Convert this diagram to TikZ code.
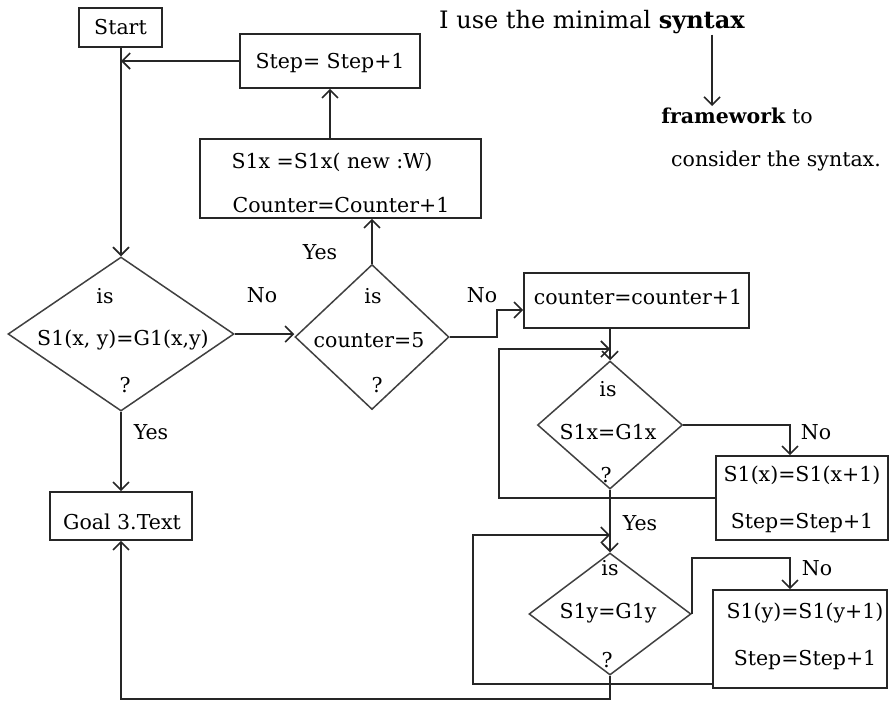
\documentclass[tikz,border=0pt]{standalone}
\usepackage{fontspec}
\setmainfont{DejaVu Serif}
\usetikzlibrary{shapes.geometric,arrows.meta}
\begin{document}
\begin{tikzpicture}[x=1pt,y=-1pt,
  line width=1.7pt,
  every node/.style={font=\fontsize{20.5}{24}\selectfont, text=black},
  arr/.style={-{Straight Barb[length=8pt,width=16pt,line width=1.6pt]}},
  ln/.style={draw=black!85},
  boxnode/.style={draw=black!85, rectangle, inner sep=0pt},
  decision/.style={draw=black!75, diamond, inner sep=0pt, line width=1.5pt},
  lbl/.style={inner sep=0pt}
]
\useasboundingbox (0,0) rectangle (893,702);

% process boxes
\node[boxnode, minimum width=83pt, minimum height=39pt] (start) at (120.5,27.5) {Start};
\node[boxnode, minimum width=180pt, minimum height=54pt] (step) at (330,61) {};
\node[lbl] (steptxt) at (330,63) {Step= Step+1};
\node[boxnode, minimum width=281pt, minimum height=79pt] (s1x) at (340.5,178.5) {};
\node[lbl] (s1xa) at (332,162) {S1x =S1x( new :W)};
\node[lbl] (s1xb) at (341,205) {Counter=Counter+1};
\node[boxnode, minimum width=142pt, minimum height=48pt] (goal) at (121,516) {};
\node[lbl] (goaltxt) at (122,522) {Goal 3.Text};
\node[boxnode, minimum width=225pt, minimum height=55pt] (cbox) at (636.5,300.5) {};
\node[lbl] (cboxtxt) at (638,297) {counter=counter+1};
\node[boxnode, minimum width=172pt, minimum height=84pt] (sxbox) at (802,498) {};
\node[lbl] (sxa) at (802,475) {S1(x)=S1(x+1)};
\node[lbl] (sxb) at (802,523) {Step=Step+1};
\node[boxnode, minimum width=174pt, minimum height=98pt] (sybox) at (800,639) {};
\node[lbl] (sya) at (805,613) {S1(y)=S1(y+1)};
\node[lbl] (syb) at (805,660) {Step=Step+1};

% decisions
\node[decision, minimum width=226pt, minimum height=154pt] (d1) at (121,334) {};
\node[lbl] (d1a) at (105,296) {is};
\node[lbl] (d1b) at (123,340) {S1(x, y)=G1(x,y)};
\node[lbl] (d1c) at (125,385) {?};
\node[decision, minimum width=154pt, minimum height=145pt] (d2) at (372,337) {};
\node[lbl] (d2a) at (373,296) {is};
\node[lbl] (d2b) at (369,340) {counter=5};
\node[lbl] (d2c) at (377,385) {?};
\node[decision, minimum width=145pt, minimum height=128pt] (d3) at (610,425) {};
\node[lbl] (d3a) at (608,389) {is};
\node[lbl] (d3b) at (608,432) {S1x=G1x};
\node[lbl] (d3c) at (606,475) {?};
\node[decision, minimum width=162pt, minimum height=122pt] (d4) at (610,614) {};
\node[lbl] (d4a) at (610,568) {is};
\node[lbl] (d4b) at (608,613) {S1y=G1y};
\node[lbl] (d4c) at (607,660) {?};

% branch labels
\node[lbl] (yes1) at (320,252) {Yes};
\node[lbl] (no1) at (262,295) {No};
\node[lbl] (yes2) at (151,432) {Yes};
\node[lbl] (no2) at (482,295) {No};
\node[lbl] (no3) at (816,432) {No};
\node[lbl] (yes3) at (640,523) {Yes};
\node[lbl] (no4) at (817,568) {No};

% side note
\node[lbl, font=\fontsize{24}{28}\selectfont] (note1) at (592,22) {I use the minimal \textbf{syntax}};
\node[lbl] (note2) at (737,116) {\textbf{framework} to};
\node[lbl] (note3) at (776,161) {consider the syntax.};

% helper points
\coordinate (k1) at (497,310);
\coordinate (lx1) at (499,349);
\coordinate (lx2) at (473,535);
\coordinate (nx) at (790,0);
\coordinate (up4) at (689,558);
\coordinate (bot) at (610,699);
\coordinate (loop2end) at (713,684);

% connectors
\draw[ln,arr] (start.south -| d1.north) -- (d1.north);
\draw[ln,arr] (step.west) -- (step.west -| d1.north);
\draw[ln,arr] (step.south |- s1x.north) -- (step.south);
\draw[ln,arr] (d2.north) -- (d2.north |- s1x.south);
\draw[ln,arr] (d1.east) -- (d1.east -| d2.west);
\draw[ln,arr] (d1.south) -- (d1.south |- goal.north);
\draw[ln,arr] (d2.east) -| (k1) -- (k1 -| cbox.west);
\draw[ln,arr] (d3.north |- cbox.south) -- (d3.north);
\draw[ln,arr] (sxbox.west) -| (lx1) -- (lx1 -| d3.north);
\draw[ln,arr] (d3.east) -| (nx |- sxbox.north);
\draw[ln,arr] (d3.south) -- (d4.north);
\draw[ln,arr] (loop2end) -| (lx2) -- (lx2 -| d4.north);
\draw[ln,arr] (d4.east) -- (d4.east |- up4) -| (nx |- sybox.north);
\draw[ln,arr] (d4.south) -- (bot) -| (goal.south);
\draw[ln,arr] (note1.south -| 712,0) -- (712,106);
\end{tikzpicture}
\end{document}
